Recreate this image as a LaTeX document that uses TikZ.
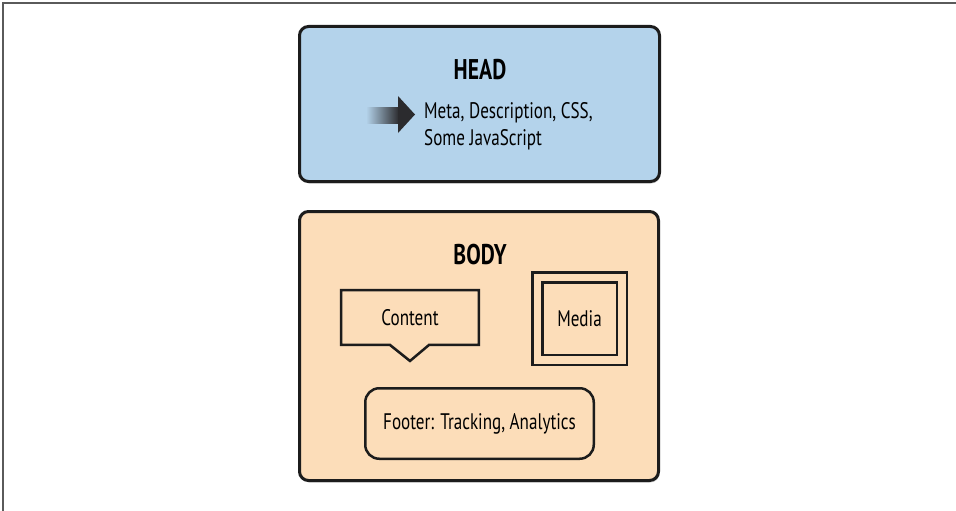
\documentclass[tikz,border=0pt]{standalone}
\usepackage{fontspec}
\setmainfont{PT Sans}[FakeStretch=0.76]
\usepackage{tikz}
\usetikzlibrary{shadows}

\definecolor{headblue}{HTML}{B4D3EB}
\definecolor{bodypeach}{HTML}{FCDDB9}
\definecolor{linedark}{HTML}{1C1C1C}
\definecolor{arrowdark}{HTML}{2B2B2E}
\definecolor{framegray}{HTML}{5A5A5A}

\begin{document}
\begin{tikzpicture}[x=1pt,y=-1pt,
		section-box/.style={draw=linedark, line width=3pt, rounded corners=9pt,
		drop shadow={shadow xshift=1pt, shadow yshift=-2pt, opacity=0.35}},
		inner-box/.style={draw=linedark, line width=2.5pt},
		title-text/.style={font=\fontsize{28.5}{32}\selectfont\bfseries},
		item-text/.style={font=\fontsize{22.5}{27}\selectfont},
		]

		\useasboundingbox (0,0) rectangle (956,511);

		% frame
		\draw[framegray, line width=1.4pt] (3,511) -- (3,3) -- (956,3);

		% head section
		\node[section-box, fill=headblue, minimum width=360pt, minimum height=155pt] (head) at (479.5,104) {};
		\node[title-text] (headtitle) at (480,70) {HEAD};
		\node[item-text, anchor=west, align=left, inner sep=0pt] (headitems) at (424,126.5)
		{Meta, Description, CSS,\\Some JavaScript};
		\shade[left color=headblue, right color=arrowdark] (366,107) rectangle (399,123);
		\fill[arrowdark] (398,96) -- (415,114.5) -- (398,133) -- cycle;

		% body section
		\node[section-box, fill=bodypeach, minimum width=359pt, minimum height=269pt] (body) at (479,346) {};
		\node[title-text] (bodytitle) at (480,255) {BODY};

		\node[item-text, minimum width=137.5pt, minimum height=54.5pt] (content) at (410,317.5) {Content};
		\draw[inner-box, line join=miter] (content.north west) -- (content.north east) -- (content.south east)
		-- ([xshift=19pt]content.south) -- ([yshift=-16pt]content.south)
		-- ([xshift=-20pt]content.south) -- (content.south west) -- cycle;

		\node[inner-box, fill=bodypeach, double=bodypeach, double distance=7.5pt,
		minimum width=84.5pt, minimum height=82.5pt, item-text] (media) at (579.5,318.5) {Media};

		\node[inner-box, rounded corners=14pt, minimum width=228.5pt, minimum height=70.5pt, item-text]
		(footer) at (479.5,423.5) {Footer: Tracking, Analytics};

\end{tikzpicture}
\end{document}
